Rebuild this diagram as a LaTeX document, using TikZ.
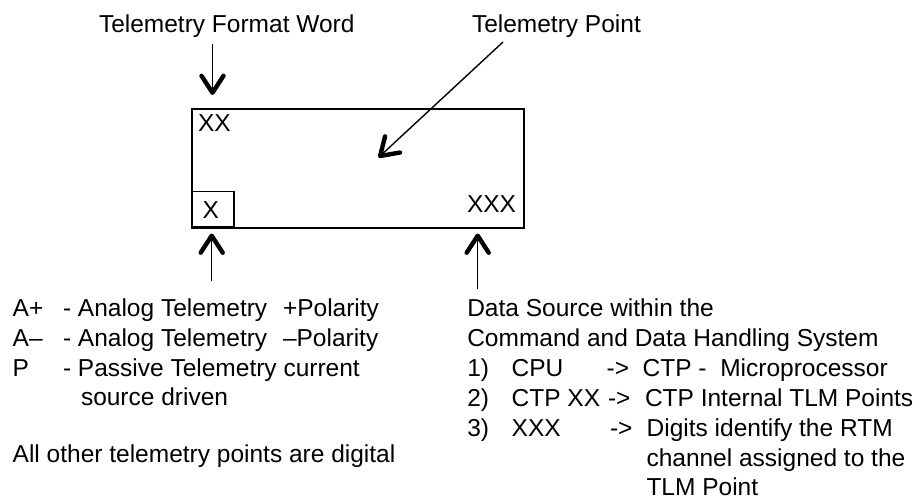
\documentclass[tikz,border=0pt]{standalone}
\usepackage{fontspec}
\setmainfont{Liberation Sans}
\usetikzlibrary{arrows.meta}
\begin{document}
\begin{tikzpicture}[x=1pt,y=-1pt,
  txt/.style={anchor=base west,inner sep=0pt,outer sep=0pt,font=\fontsize{24.5}{30}\selectfont},
  ptr/.style={line width=1.4pt,-{Straight Barb[length=17pt,width=22pt,line width=4.4pt,round]}}]
\useasboundingbox (0,0) rectangle (920,500);
% main box
\node[draw,line width=2pt,minimum width=332pt,minimum height=119pt,inner sep=0pt,anchor=north west] (tp) at (191,108) {};
\node[draw,line width=1.5pt,minimum width=42pt,minimum height=35pt,inner sep=0pt,anchor=south west] (xb) at (191,227) {};
\node[txt] (xx) at (198,131.5) {XX};
\node[txt] (x1) at (202.5,218.3) {X};
\node[txt] (xxx) at (467,212.7) {XXX};
% top labels
\node[txt] (tfw) at (99,33) {Telemetry Format Word};
\node[txt] (tpl) at (472,33) {Telemetry Point};
\coordinate (fwa) at (212.5,44);
\coordinate (fwb) at (212.5,95);
\coordinate (tpa) at (503,42);
\coordinate (tpb) at (378.5,157.5);
\coordinate (lba) at (211.7,280.5);
\coordinate (lbb) at (211.7,233.5);
\coordinate (rba) at (477.7,288.5);
\coordinate (rbb) at (477.7,233.5);
\draw[ptr] (fwa) -- (fwb);
\draw[ptr] (tpa) -- (tpb);
\draw[ptr] (lba) -- (lbb);
\draw[ptr] (rba) -- (rbb);
% left legend
\node[txt] (l1a) at (12.7,316) {A+};
\node[txt] (l1b) at (63,316) {- Analog Telemetry};
\node[txt] (l1c) at (283,316) {+Polarity};
\node[txt] (l2a) at (12.7,346) {A–};
\node[txt] (l2b) at (63,346) {- Analog Telemetry};
\node[txt] (l2c) at (283,346) {–Polarity};
\node[txt] (l3a) at (12.7,376) {P};
\node[txt] (l3b) at (63,376) {- Passive Telemetry current};
\node[txt] (l4) at (81,405) {source driven};
\node[txt] (l5) at (12.7,462.5) {All other telemetry points are digital};
% right legend
\node[txt] (r1) at (467.3,316) {Data Source within the};
\node[txt] (r2) at (467.3,346) {Command and Data Handling System};
\node[txt] (r3a) at (467.3,376) {1)};
\node[txt] (r3b) at (511.7,376) {CPU};
\node[txt] (r3c) at (606.7,376) {->};
\node[txt] (r3d) at (642.7,376) {CTP -\ \ Microprocessor};
\node[txt] (r4a) at (467.3,406) {2)};
\node[txt] (r4b) at (511.7,406) {CTP XX};
\node[txt] (r4c) at (608,406) {->};
\node[txt] (r4d) at (645,406) {CTP Internal TLM Points};
\node[txt] (r5a) at (467.3,436) {3)};
\node[txt] (r5b) at (511.7,436) {XXX};
\node[txt] (r5c) at (610,436) {->};
\node[txt] (r5d) at (646.7,436) {Digits identify the RTM};
\node[txt] (r6) at (646.5,466) {channel assigned to the};
\node[txt] (r7) at (646.5,495) {TLM Point};
\end{tikzpicture}
\end{document}
